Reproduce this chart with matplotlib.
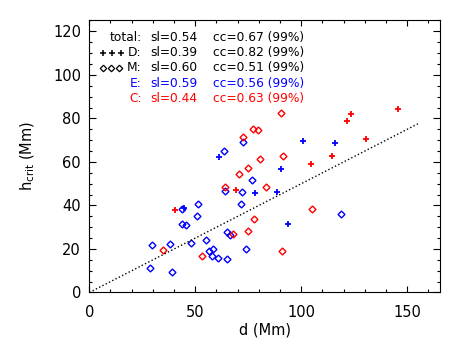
import numpy as np
import matplotlib
matplotlib.use("Agg")
import matplotlib.pyplot as plt

# E group (blue), D = plus, M = diamond
e_d_x = [44.5, 61.2, 78.3, 88.7, 90.6, 93.6, 100.7, 115.9]
e_d_y = [38.8, 62.3, 45.8, 46.3, 56.6, 31.5, 69.7, 68.8]
e_m_x = [51.3, 43.5, 50.9, 43.7, 45.5, 47.8, 29.4, 38.1, 28.6, 38.9, 55.0, 56.5, 58.2,
         57.9, 60.6, 65.1, 65.1, 66.4, 73.8, 71.7, 63.9, 72.2, 76.9, 72.5, 63.4, 118.6]
e_m_y = [40.6, 38.5, 35.2, 31.7, 30.9, 22.8, 21.6, 22.1, 11.3, 9.2, 24.0, 19.1, 19.9,
         16.7, 15.8, 15.2, 27.7, 26.2, 19.8, 40.5, 46.7, 46.0, 51.6, 69.0, 65.0, 35.9]
# C group (red)
c_d_x = [40.6, 69.2, 104.6, 114.3, 121.4, 123.6, 130.5, 145.6]
c_d_y = [37.8, 46.9, 59.0, 62.5, 78.9, 82.1, 70.6, 84.1]
c_m_x = [34.6, 53.0, 67.9, 75.0, 77.8, 64.2, 83.5, 70.8, 74.7, 80.5, 91.2, 90.4, 77.4,
         79.7, 72.4, 105.2, 90.8]
c_m_y = [19.4, 16.7, 26.9, 28.2, 33.6, 48.4, 48.6, 54.5, 57.0, 61.3, 62.5, 82.3, 74.9,
         74.5, 71.3, 38.3, 19.1]

fit_slope = 0.5
fit_xmax = 155

rows = ["total:", "D:", "M:", "E:", "C:"]
sl_vals = [0.54, 0.39, 0.60, 0.59, 0.44]
cc_vals = [0.67, 0.82, 0.51, 0.56, 0.63]
row_colors = ["k", "k", "k", "b", "r"]

plt.rcParams['font.family'] = ['DejaVu Sans']

fig = plt.figure(figsize=(4.51, 3.48), dpi=100)
ax = fig.add_axes([0.198, 0.1595, 0.777, 0.783])

ax.plot(e_m_x, e_m_y, 'D', ms=3.5, mfc='none', mec='b', mew=1.0, ls='none')
ax.plot(c_m_x, c_m_y, 'D', ms=3.5, mfc='none', mec='r', mew=1.0, ls='none')
ax.plot(e_d_x, e_d_y, '+', ms=5, mec='b', mew=1.3, ls='none')
ax.plot(c_d_x, c_d_y, '+', ms=5, mec='r', mew=1.3, ls='none')

xf = np.array([0, fit_xmax])
ax.plot(xf, fit_slope * xf, 'k:', lw=1.0)

ax.set_xlim(0, 165.3)
ax.set_ylim(0, 125.2)
ax.set_xticks([0, 50, 100, 150])
ax.set_xticks(np.arange(0, 166, 10), minor=True)
ax.set_yticks(np.arange(0, 121, 20))
ax.set_yticks(np.arange(0, 126, 5), minor=True)
ax.tick_params(which='both', direction='in', top=True, right=True, width=0.8, labelsize=10.5)
ax.tick_params(axis='x', which='major', length=4, pad=9)
ax.tick_params(axis='x', which='minor', length=2)
ax.tick_params(axis='y', which='major', length=5, pad=6)
ax.tick_params(axis='y', which='minor', length=2.5)
for s in ax.spines.values():
    s.set_linewidth(0.8)

ax.set_xlabel("d (Mm)", fontsize=10.5)
ax.xaxis.set_label_coords(0.5, -0.11)
ax.set_ylabel(r"h$_{\rm crit}$ (Mm)", fontsize=10.5)
ax.yaxis.set_label_coords(-0.15, 0.5)

ys = [0.937, 0.880, 0.824, 0.767, 0.711]
for name, sl, cc, col, yy in zip(rows, sl_vals, cc_vals, row_colors, ys):
    ax.text(0.1495, yy, name, color=col, fontsize=8.8, ha='right', va='center', transform=ax.transAxes)
    ax.text(0.173, yy, "sl=%.2f" % sl, color=col, fontsize=8.8, ha='left', va='center', transform=ax.transAxes)
    ax.text(0.354, yy, "cc=%.2f (99%%)" % cc, color=col, fontsize=8.8, ha='left', va='center', transform=ax.transAxes)

# legend symbols
ax.plot([0.040, 0.066, 0.091], [ys[1]] * 3, '+', ms=4.5, mec='k', mew=1.1, ls='none',
        transform=ax.transAxes, clip_on=False)
ax.plot([0.038, 0.061, 0.086], [ys[2]] * 3, 'D', ms=3.3, mfc='none', mec='k', mew=0.9, ls='none',
        transform=ax.transAxes, clip_on=False)

fig.savefig("out.png", dpi=100)
